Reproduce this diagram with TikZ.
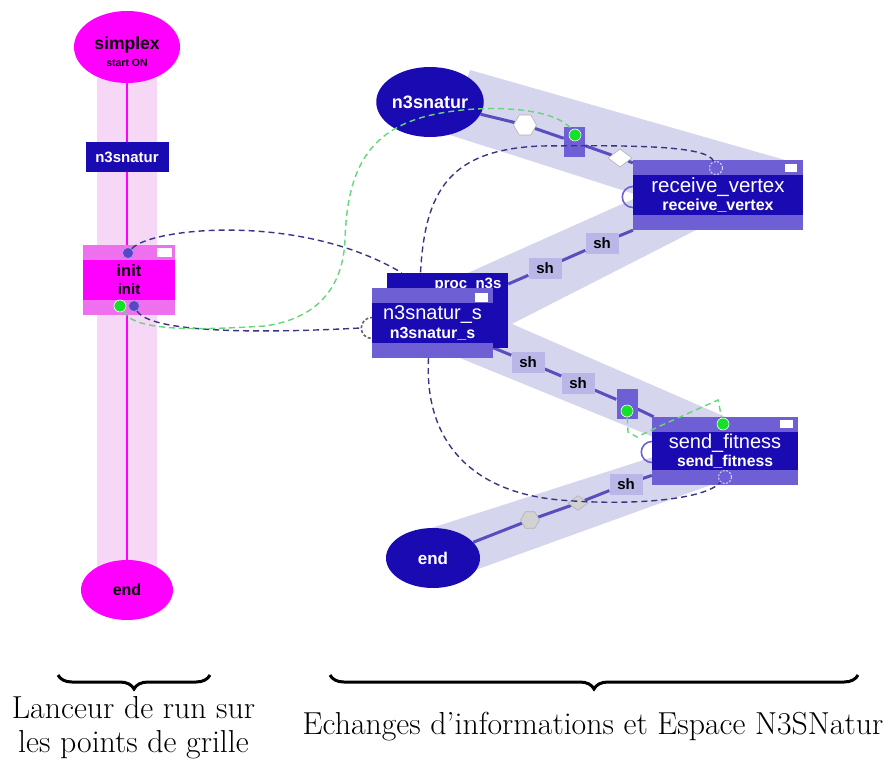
\documentclass[tikz,border=0pt]{standalone}
\usepackage{fontspec}
\newfontfamily\uisans{Liberation Sans}
\usetikzlibrary{shapes.geometric,decorations.pathreplacing,calc}
\pgfdeclarelayer{bg}
\pgfdeclarelayer{fg}
\pgfsetlayers{bg,main,fg}

\definecolor{dblue}{RGB}{26,10,178}
\definecolor{lblue}{RGB}{110,96,212}
\definecolor{bandc}{RGB}{214,213,238}
\definecolor{pbandc}{RGB}{246,216,246}
\definecolor{mag}{RGB}{255,0,255}
\definecolor{lmag}{RGB}{238,112,238}
\definecolor{connc}{RGB}{88,78,190}
\definecolor{dashcol}{RGB}{58,52,130}
\definecolor{gdashcol}{RGB}{100,215,120}
\definecolor{portg}{RGB}{20,225,40}
\definecolor{portp}{RGB}{92,70,200}
\definecolor{shfill}{RGB}{186,182,232}

\tikzset{
  conn/.style={draw=connc, line width=3pt},
  dashc/.style={draw=dashcol, line width=1.4pt, dash pattern=on 6pt off 4pt},
  gdashc/.style={draw=gdashcol, line width=1.4pt, dash pattern=on 6pt off 4pt},
  blueell/.style={ellipse, fill=dblue, inner sep=0pt, text=white,
    font=\uisans\bfseries\fontsize{18}{20}\selectfont},
  magell/.style={ellipse, fill=mag, inner sep=0pt, text=black,
    font=\uisans\bfseries\fontsize{16}{18}\selectfont},
  procbox/.style={rectangle, fill=lblue, inner sep=0pt, text=white, align=center,
    font=\uisans\fontsize{16}{18.5}\selectfont,
    path picture={\fill[dblue] ([yshift=-15pt]path picture bounding box.north west)
      rectangle ([yshift=15pt]path picture bounding box.south east);}},
  initbox/.style={rectangle, fill=lmag, inner sep=0pt, text=black, align=center,
    font=\uisans\bfseries\fontsize{15}{18}\selectfont,
    path picture={\fill[mag] ([yshift=-15pt]path picture bounding box.north west)
      rectangle ([yshift=15pt]path picture bounding box.south east);}},
  shbox/.style={rectangle, fill=shfill, minimum width=33pt, minimum height=21pt,
    inner sep=0pt, font=\uisans\bfseries\fontsize{15}{15}\selectfont},
  hexnode/.style={regular polygon, regular polygon sides=6, minimum size=23pt,
    inner sep=0pt, draw=gray!60, line width=0.6pt},
  dianode/.style={diamond, minimum width=24pt, minimum height=18pt, inner sep=0pt,
    draw=gray!60, line width=0.6pt},
  sqnode/.style={rectangle, fill=lblue, minimum width=21pt, minimum height=30pt, inner sep=0pt},
  gport/.style={circle, fill=portg, draw=white, line width=0.6pt, minimum size=12pt, inner sep=0pt},
  pport/.style={circle, fill=portp, draw=white!50!portp, line width=0.6pt, minimum size=11pt, inner sep=0pt},
  dport/.style={circle, fill=lblue, draw=white!75!lblue, line width=1pt, dash pattern=on 2pt off 1.5pt,
    minimum size=13pt, inner sep=0pt},
  sideport/.style={circle, draw=lblue, line width=1.6pt, minimum size=21pt, inner sep=0pt},
  winmark/.style={fill=white},
  caption/.style={font=\fontsize{31.8}{34}\selectfont, align=center, inner sep=0pt},
  bracec/.style={decorate, decoration={brace, mirror, amplitude=14pt}, line width=3pt}
}

\begin{document}
\begin{tikzpicture}[x=1pt,y=-1pt]
\useasboundingbox (0,0) rectangle (888,765);

% ---------- left column: run launcher ----------
\node[magell, minimum width=106pt, minimum height=72pt] (simplex) at (127,47) {};
\node[font=\uisans\bfseries\fontsize{10.5}{17}\selectfont, align=center, inner sep=0pt] (simplextxt) at (127,52)
  {\fontsize{17.5}{17}\selectfont simplex\\\fontsize{10.5}{17}\selectfont start ON};
\node[rectangle, fill=dblue, minimum width=83pt, minimum height=30pt, inner sep=0pt, text=white,
  font=\uisans\bfseries\fontsize{15}{16}\selectfont] (lbox) at (127,157) {n3snatur};
\node[initbox, minimum width=92pt, minimum height=70pt] (init) at (129,280)
  {\fontsize{16.5}{18}\selectfont init\\\fontsize{15}{18}\selectfont init};
\fill[winmark] ([xshift=-18pt,yshift=-3pt]init.north east) rectangle ([xshift=-3pt,yshift=-12pt]init.north east);
\node[magell, minimum width=92pt, minimum height=60pt] (endL) at (127,590) {end};

% ---------- right part: exchange space ----------
\node[blueell, minimum width=106pt, minimum height=70pt] (n3e) at (430,102) {n3snatur};
\node[blueell, minimum width=94pt, minimum height=60pt, font=\uisans\bfseries\fontsize{17}{18}\selectfont] (endR) at (433,558) {end};

\node[procbox, minimum width=170pt, minimum height=70pt] (rv) at (718,195)
  {\fontsize{20.5}{18.5}\selectfont receive\_vertex\\\bfseries\fontsize{16}{18.5}\selectfont receive\_vertex};
\fill[winmark] ([xshift=-18pt,yshift=-4pt]rv.north east) rectangle ([xshift=-6pt,yshift=-12pt]rv.north east);

\node[rectangle, fill=dblue, minimum width=121pt, minimum height=75pt, inner sep=0pt] (proc) at (447.5,310.5) {};
\node[text=white, font=\uisans\bfseries\fontsize{15}{16}\selectfont, inner sep=0pt] (proctxt) at (468,285) {proc\_n3s};
\node[procbox, minimum width=121pt, minimum height=70pt] (n3s) at (432.5,323)
  {\fontsize{20}{18}\selectfont n3snatur\_s\\\bfseries\fontsize{16}{18}\selectfont n3snatur\_s};
\fill[winmark] ([xshift=-18pt,yshift=-5pt]n3s.north east) rectangle ([xshift=-5pt,yshift=-14pt]n3s.north east);

\node[procbox, minimum width=146pt, minimum height=68pt] (sf) at (725,451)
  {\fontsize{20}{18}\selectfont send\_fitness\\\bfseries\fontsize{15.7}{18}\selectfont send\_fitness};
\fill[winmark] ([xshift=-18pt,yshift=-3pt]sf.north east) rectangle ([xshift=-5pt,yshift=-11pt]sf.north east);

% shared-variable markers along the links
\node[hexnode, fill=white] (hex1) at (525,125) {};
\node[sqnode] (sq1) at (574.5,142) {};
\node[dianode, fill=white] (dia1) at (620,158) {};
\node[shbox] (sh1) at (602,243) {sh};
\node[shbox] (sh2) at (545,268) {sh};
\node[shbox] (sh3) at (528,362) {sh};
\node[shbox] (sh4) at (578,383) {sh};
\node[sqnode] (sq2) at (627,404) {};
\node[shbox] (sh5) at (626,484) {sh};
\node[dianode, fill=gray!35, minimum width=20pt, minimum height=15pt] (dia2) at (578,503) {};
\node[hexnode, fill=gray!35, minimum size=19pt] (hex2) at (530,520) {};

% ---------- background: lanes and solid links ----------
\begin{pgfonlayer}{bg}
  \fill[pbandc] (97,78) rectangle (157,572);
  \fill[bandc] (470,70) -- (785,160) -- (700,215) -- (450,135) -- cycle;
  \fill[bandc] (640,196) -- (700,228) -- (500,330) -- (452,280) -- cycle;
  \fill[bandc] (480,310) -- (728,418) -- (690,452) -- (460,358) -- cycle;
  \fill[bandc] (425,530) -- (700,442) -- (730,478) -- (470,572) -- cycle;

  \draw[mag, line width=2.5pt] (simplex) -- (endL);

  \draw[conn] (n3e) -- (hex1) -- (sq1) -- (dia1) -- (rv);
  \draw[conn] (rv) -- (sh1) -- (sh2) -- (proc);
  \draw[conn] (n3s) -- (sh3) -- (sh4) -- (sq2) -- (sf);
  \draw[conn] (sf) -- (sh5) -- (dia2) -- (hex2) -- (endR);

  \node[sideport] (rvL) at ([yshift=-2pt]rv.west) {};
  \node[sideport, draw=gray!80!black, dash pattern=on 3pt off 2pt] (n3sL) at ([yshift=-5pt]n3s.west) {};
  \node[sideport] (sfL) at ([yshift=-1pt]sf.west) {};
\end{pgfonlayer}

% ---------- ports ----------
\node[pport] (initT) at (128,253) {};
\node[gport] (initG) at (120,306) {};
\node[pport] (initP) at (134,306) {};
\node[gport] (g1) at (575,135) {};
\node[gport] (g2) at (627,411) {};
\node[dport] (rvT) at (716,168) {};
\node[gport] (sfG) at (723,424) {};
\node[dport] (sfB) at (725,477) {};

% ---------- dashed data links ----------
\begin{pgfonlayer}{fg}
  \draw[dashc] (initT) .. controls (150,228) and (300,212) .. ([xshift=15pt]proc.north west);
  \draw[dashc] (initP) .. controls (150,332) and (250,334) .. (n3sL.west);
  \draw[gdashc] (initG) .. controls (135,332) and (200,330) .. (265,326)
    .. controls (320,318) and (343,285) .. (345,240)
    .. controls (347,175) and (365,135) .. (420,118)
    .. controls (470,103) and (555,105) .. (g1);
  \draw[dashc] (rvT) .. controls (708,146) and (640,145) .. (540,146)
    .. controls (450,150) and (425,190) .. ([xshift=-27pt]proc.north);
  \draw[dashc] ([xshift=-4pt]n3s.south) .. controls (424,440) and (470,492) .. (560,500)
    .. controls (630,506) and (705,500) .. (sfB);
  \draw[gdashc] (g2) -- (628,432) -- (637,437) -- (660,426) -- (718,400) -- (sfG);
\end{pgfonlayer}

% ---------- captions ----------
\coordinate (bl1) at (58,675);
\coordinate (bl2) at (210,675);
\coordinate (br1) at (330,675);
\coordinate (br2) at (858,675);
\draw[bracec] (bl1) -- (bl2);
\draw[bracec] (br1) -- (br2);
\node[caption] (capL) at (133.5,728) {Lanceur de run sur\\les points de grille};
\node[caption] (capR) at (593,727) {Echanges d'informations et Espace N3SNatur};
\end{tikzpicture}
\end{document}
